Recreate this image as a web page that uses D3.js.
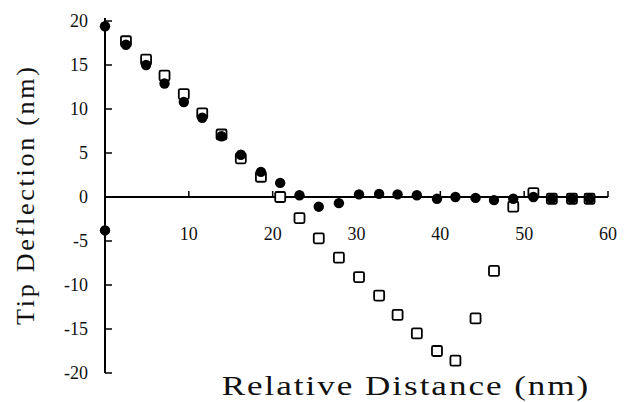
<!DOCTYPE html>
<meta charset="utf-8">
<style>
  body { margin: 0; background: #fff; }
</style>
<body>
<script src="https://d3js.org/d3.v7.min.js"></script>
<script>

var width = 631,
    height = 402;

// filled circles
var circleX = [0, 0, 2.5, 4.9, 7.1, 9.4, 11.6, 13.9, 16.2, 18.6, 20.9, 23.2, 25.5, 27.9,
               30.3, 32.7, 34.9, 37.2, 39.6, 41.8, 44.2, 46.4, 48.7, 51.1, 53.3, 55.7, 57.8];
var circleY = [19.4, -3.8, 17.3, 15.0, 12.9, 10.8, 9.0, 6.9, 4.8, 2.85, 1.6, 0.2, -1.1, -0.7,
               0.3, 0.35, 0.3, 0.2, -0.2, 0, -0.1, -0.35, -0.2, 0, -0.2, -0.2, -0.2];

// open squares
var squareX = [2.5, 4.9, 7.1, 9.4, 11.6, 13.9, 16.2, 18.6, 20.9, 23.2, 25.5, 27.9, 30.3,
               32.7, 34.9, 37.2, 39.6, 41.8, 44.2, 46.4, 48.7, 51.1, 53.3, 55.7, 57.8];
var squareY = [17.7, 15.6, 13.8, 11.7, 9.5, 7.1, 4.4, 2.3, 0, -2.4, -4.7, -6.9, -9.1,
               -11.2, -13.4, -15.5, -17.5, -18.6, -13.8, -8.4, -1.1, 0.45, -0.2, -0.2, -0.2];

var xTicks = [10, 20, 30, 40, 50, 60];
var yTicks = [20, 15, 10, 5, 0, -5, -10, -15, -20];

var serif = "Liberation Serif";

var x = d3.scaleLinear().domain([0, 60]).range([105, 608]);
var y = d3.scaleLinear().domain([-20, 20]).range([373, 21]);

var svg = d3.select("body").append("svg")
    .attr("width", width)
    .attr("height", height);

// y axis line + inward ticks
svg.append("line")
    .attr("x1", x(0)).attr("x2", x(0))
    .attr("y1", y(20) - 3).attr("y2", y(-20))
    .attr("stroke", "#000").attr("stroke-width", 2);

svg.selectAll(".ytick").data(yTicks).enter().append("line")
    .attr("x1", x(0)).attr("x2", x(0) + 7)
    .attr("y1", d => y(d)).attr("y2", d => y(d))
    .attr("stroke", "#000").attr("stroke-width", 1.5);

svg.selectAll(".ylab").data(yTicks).enter().append("text")
    .attr("x", 88)
    .attr("y", d => y(d) + 6)
    .attr("text-anchor", "end")
    .attr("font-family", serif)
    .attr("fill", "#111")
    .style("font-size", "18px")
    .text(d => d);

// x axis line at zero + upward ticks
svg.append("line")
    .attr("x1", x(0)).attr("x2", x(60))
    .attr("y1", y(0)).attr("y2", y(0))
    .attr("stroke", "#000").attr("stroke-width", 2);

svg.selectAll(".xtick").data(xTicks).enter().append("line")
    .attr("x1", d => x(d)).attr("x2", d => x(d))
    .attr("y1", y(0)).attr("y2", y(0) - 6)
    .attr("stroke", "#000").attr("stroke-width", 1.5);

svg.selectAll(".xlab").data(xTicks).enter().append("text")
    .attr("x", d => x(d))
    .attr("y", y(0) + 43)
    .attr("text-anchor", "middle")
    .attr("font-family", serif)
    .attr("fill", "#111")
    .style("font-size", "18px")
    .text(d => d);

// markers: squares under circles
svg.selectAll(".sq").data(squareX).enter().append("rect")
    .attr("x", (d, i) => x(d) - 5)
    .attr("y", (d, i) => y(squareY[i]) - 5)
    .attr("width", 10).attr("height", 10)
    .attr("rx", 1.5)
    .attr("fill", "#fff").attr("stroke", "#000").attr("stroke-width", 1.8);

svg.selectAll(".dot").data(circleX).enter().append("circle")
    .attr("cx", d => x(d))
    .attr("cy", (d, i) => y(circleY[i]))
    .attr("r", 5.2)
    .attr("fill", "#000");

// titles
svg.append("text")
    .attr("transform", "translate(34,196) rotate(-90)")
    .attr("text-anchor", "middle")
    .attr("textLength", 258).attr("lengthAdjust", "spacing")
    .attr("font-family", serif)
    .attr("fill", "#111")
    .style("font-size", "26px")
    .text("Tip Deflection (nm)");

// widened, as in the scanned original
svg.append("text")
    .attr("transform", "translate(405,395) scale(1.3,1)")
    .attr("text-anchor", "middle")
    .attr("textLength", 282).attr("lengthAdjust", "spacing")
    .attr("font-family", serif)
    .attr("fill", "#111")
    .style("font-size", "27px")
    .text("Relative Distance (nm)");

</script>
